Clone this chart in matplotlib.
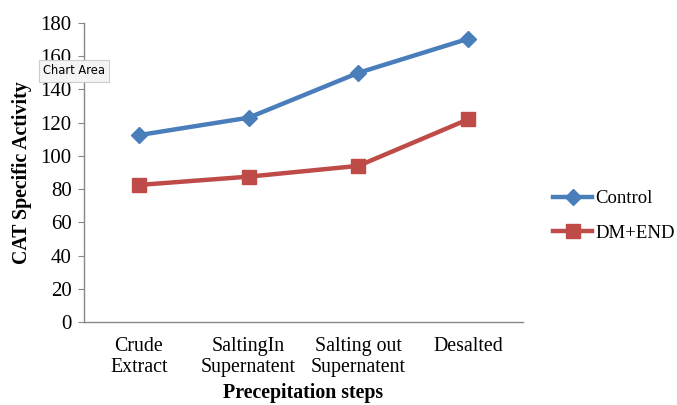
import matplotlib
matplotlib.use("Agg")
import matplotlib.pyplot as plt

categories = ["Crude\nExtract", "SaltingIn\nSupernatent", "Salting out\nSupernatent", "Desalted"]
control = [112.5, 123.0, 150.0, 170.5]
dm_end = [82.5, 87.5, 94.0, 122.0]
y_ticks = [0, 20, 40, 60, 80, 100, 120, 140, 160, 180]

plt.rcParams["font.family"] = ["Liberation Serif", "DejaVu Serif"]

fig = plt.figure(figsize=(6.77, 4.05), dpi=100)
ax = fig.add_axes([84 / 677, 1 - 322 / 405, (523 - 84) / 677, (322 - 23) / 405])

x = [i + 0.5 for i in range(len(categories))]
ax.plot(x, control, color="#4a7ebb", lw=3.2, marker="D", ms=8, label="Control")
ax.plot(x, dm_end, color="#be4b48", lw=3.2, marker="s", ms=10, label="DM+END")

ax.set_xlim(0, len(categories))
ax.set_ylim(0, 180)
ax.set_yticks(y_ticks)
ax.set_xticks(x)
ax.set_xticklabels(categories, fontsize=14.3, linespacing=1.12)
ax.tick_params(axis="x", length=0, pad=11)
ax.tick_params(axis="y", labelsize=15, length=4, color="#888888", pad=5)

for s in ["top", "right"]:
    ax.spines[s].set_visible(False)
for s in ["left", "bottom"]:
    ax.spines[s].set_color("#888888")
    ax.spines[s].set_linewidth(1.0)

ax.set_ylabel("CAT Specific Activity", fontsize=14.3, fontweight="bold", labelpad=6)
ax.set_xlabel("Precepitation steps", fontsize=14.3, fontweight="bold", labelpad=4)

handles, labels = ax.get_legend_handles_labels()
fig.legend(handles, labels, loc="center left", bbox_to_anchor=(553 / 677, 1 - 216 / 405),
           frameon=False, fontsize=13.5, handlelength=2.1, handletextpad=0.15,
           labelspacing=0.95, borderaxespad=0, borderpad=0)

fig.text(43 / 677, 1 - 71 / 405, "Chart Area", family="DejaVu Sans", fontsize=8.3,
         va="center", ha="left",
         bbox=dict(boxstyle="square,pad=0.35", fc="#f4f4f4", ec="#cccccc", lw=0.8))

fig.savefig("out.png", dpi=100)
